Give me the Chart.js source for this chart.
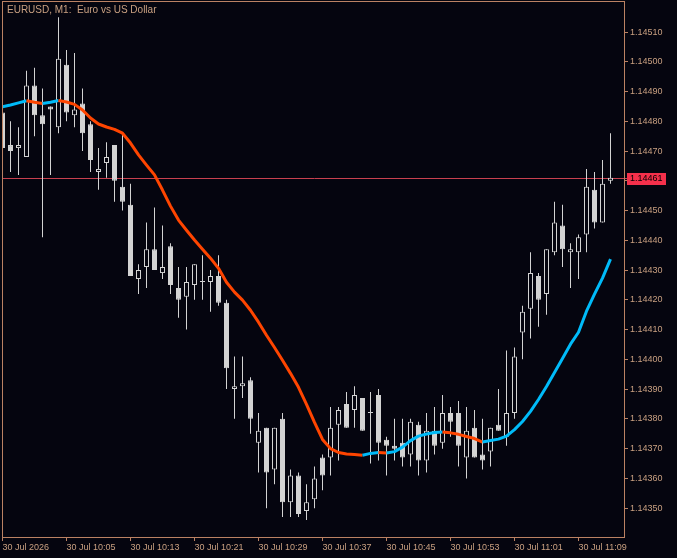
<!DOCTYPE html>
<html lang="en">
<head>
    <meta charset="UTF-8">
    <title>EURUSD, M1: Euro vs US Dollar</title>
    <script src="https://cdn.jsdelivr.net/npm/chart.js"></script>
    <style>
        html, body { margin: 0; padding: 0; background: #05050f; }
        #wrap { width: 677px; height: 558px; }
    </style>
</head>
<body>
    <div id="wrap"><canvas id="chart" width="677" height="558"></canvas></div>

    <script>
        // one bar per minute, 30 Jul 2026
        const times = [
            '09:57', '09:58', '09:59', '10:00', '10:01', '10:02', '10:03', '10:04', '10:05', '10:06',
            '10:07', '10:08', '10:09', '10:10', '10:11', '10:12', '10:13', '10:14', '10:15', '10:16',
            '10:17', '10:18', '10:19', '10:20', '10:21', '10:22', '10:23', '10:24', '10:25', '10:26',
            '10:27', '10:28', '10:29', '10:30', '10:31', '10:32', '10:33', '10:34', '10:35', '10:36',
            '10:37', '10:38', '10:39', '10:40', '10:41', '10:42', '10:43', '10:44', '10:45', '10:46',
            '10:47', '10:48', '10:49', '10:50', '10:51', '10:52', '10:53', '10:54', '10:55', '10:56',
            '10:57', '10:58', '10:59', '11:00', '11:01', '11:02', '11:03', '11:04', '11:05', '11:06',
            '11:07', '11:08', '11:09', '11:10', '11:11', '11:12', '11:13'
        ];
        const open = [
            1.14483, 1.14472, 1.14471, 1.14468, 1.14492, 1.14482, 1.14485, 1.14478, 1.14499, 1.14482,
            1.14486, 1.14479, 1.14463, 1.14466, 1.14472, 1.14458, 1.14452, 1.14427, 1.14431, 1.14437,
            1.14429, 1.14438, 1.14424, 1.14421, 1.14425, 1.14426, 1.14426, 1.14428, 1.14419, 1.14390,
            1.14391, 1.14393, 1.14372, 1.14377, 1.14363, 1.14380, 1.14352, 1.14361, 1.14349, 1.14353,
            1.14367, 1.14367, 1.14378, 1.14385, 1.14383, 1.14387, 1.14382, 1.14388, 1.14373, 1.14371,
            1.14372, 1.14368, 1.14378, 1.14366, 1.14376, 1.14372, 1.14382, 1.14382, 1.14367, 1.14377,
            1.14368, 1.14369, 1.14378, 1.14374, 1.14382, 1.14409, 1.14417, 1.14428, 1.14422, 1.14436,
            1.14445, 1.14436, 1.14436, 1.14442, 1.14457, 1.14446, 1.14460
        ];
        const high = [
            1.14485, 1.14480, 1.14478, 1.14497, 1.14498, 1.14491, 1.14485, 1.14515, 1.14504, 1.14503,
            1.14491, 1.14480, 1.14471, 1.14473, 1.14472, 1.14476, 1.14459, 1.14432, 1.14446, 1.14451,
            1.14445, 1.14439, 1.14431, 1.14431, 1.14432, 1.14435, 1.14430, 1.14435, 1.14420, 1.14401,
            1.14401, 1.14394, 1.14382, 1.14377, 1.14377, 1.14382, 1.14363, 1.14362, 1.14358, 1.14364,
            1.14368, 1.14384, 1.14384, 1.14389, 1.14391, 1.14387, 1.14389, 1.14390, 1.14374, 1.14380,
            1.14380, 1.14380, 1.14379, 1.14382, 1.14384, 1.14388, 1.14384, 1.14386, 1.14384, 1.14383,
            1.14380, 1.14377, 1.14390, 1.14403, 1.14404, 1.14418, 1.14436, 1.14429, 1.14437, 1.14453,
            1.14452, 1.14439, 1.14442, 1.14464, 1.14463, 1.14467, 1.14476
        ];
        const low = [
            1.14470, 1.14463, 1.14462, 1.14468, 1.14475, 1.14441, 1.14462, 1.14476, 1.14480, 1.14478,
            1.14470, 1.14463, 1.14457, 1.14461, 1.14453, 1.14450, 1.14428, 1.14422, 1.14424, 1.14430,
            1.14427, 1.14422, 1.14414, 1.14410, 1.14420, 1.14420, 1.14416, 1.14418, 1.14390, 1.14380,
            1.14387, 1.14375, 1.14362, 1.14350, 1.14358, 1.14347, 1.14347, 1.14347, 1.14346, 1.14350,
            1.14356, 1.14361, 1.14366, 1.14377, 1.14377, 1.14376, 1.14365, 1.14366, 1.14361, 1.14366,
            1.14364, 1.14364, 1.14361, 1.14362, 1.14368, 1.14370, 1.14374, 1.14364, 1.14360, 1.14367,
            1.14363, 1.14364, 1.14376, 1.14371, 1.14380, 1.14400, 1.14407, 1.14411, 1.14415, 1.14435,
            1.14431, 1.14424, 1.14427, 1.14436, 1.14444, 1.14446, 1.14459
        ];
        const close = [
            1.14471, 1.14470, 1.14472, 1.14492, 1.14482, 1.14479, 1.14484, 1.14501, 1.14483, 1.14484,
            1.14476, 1.14467, 1.14464, 1.14468, 1.14460, 1.14453, 1.14428, 1.14430, 1.14437, 1.14430,
            1.14431, 1.14425, 1.14420, 1.14426, 1.14432, 1.14426, 1.14428, 1.14419, 1.14397, 1.14391,
            1.14392, 1.14380, 1.14376, 1.14362, 1.14377, 1.14352, 1.14361, 1.14348, 1.14352, 1.14360,
            1.14361, 1.14377, 1.14383, 1.14377, 1.14388, 1.14376, 1.14382, 1.14372, 1.14371, 1.14370,
            1.14367, 1.14379, 1.14366, 1.14376, 1.14371, 1.14382, 1.14379, 1.14371, 1.14376, 1.14367,
            1.14366, 1.14377, 1.14376, 1.14382, 1.14401, 1.14416, 1.14429, 1.14420, 1.14437, 1.14446,
            1.14437, 1.14437, 1.14441, 1.14458, 1.14446, 1.14459, 1.14461
        ];
        // smoothed moving average, coloured by direction
        const ma = [
            1.144849, 1.144855, 1.144862, 1.144869, 1.144864, 1.144860, 1.144864, 1.144870, 1.144865, 1.144857,
            1.144838, 1.144811, 1.144791, 1.144781, 1.144773, 1.144760, 1.144727, 1.144687, 1.144653, 1.144620,
            1.144569, 1.144515, 1.144468, 1.144434, 1.144401, 1.144370, 1.144340, 1.144306, 1.144259, 1.144226,
            1.144199, 1.144165, 1.144125, 1.144081, 1.144040, 1.143997, 1.143953, 1.143906, 1.143849, 1.143788,
            1.143731, 1.143700, 1.143687, 1.143682, 1.143680, 1.143678, 1.143684, 1.143687, 1.143685, 1.143690,
            1.143705, 1.143727, 1.143742, 1.143749, 1.143754, 1.143756, 1.143753, 1.143748, 1.143741, 1.143734,
            1.143722, 1.143727, 1.143732, 1.143742, 1.143764, 1.143791, 1.143825, 1.143865, 1.143909, 1.143956,
            1.144003, 1.144051, 1.144091, 1.144162, 1.144219, 1.144273, 1.144337
        ];

        const xTickIdx = [0, 8, 16, 24, 32, 40, 48, 56, 64, 72];
        const xTickText = ['30 Jul 2026', '30 Jul 10:05', '30 Jul 10:13', '30 Jul 10:21', '30 Jul 10:29',
                           '30 Jul 10:37', '30 Jul 10:45', '30 Jul 10:53', '30 Jul 11:01', '30 Jul 11:09'];
        const yTicks = [1.14350, 1.14360, 1.14370, 1.14380, 1.14390, 1.14400, 1.14410, 1.14420, 1.14430,
                        1.14440, 1.14450, 1.14460, 1.14470, 1.14480, 1.14490, 1.14500, 1.14510];
        const bid = 1.14461;
        const title = 'EURUSD, M1:  Euro vs US Dollar';

        const BG = '#05050f';
        const AXIS = '#bb8263';
        const TEXT = '#c9a081';
        const CANDLE = '#d3d3d3';
        const UP = '#00bbf9';
        const DOWN = '#ff4500';
        const FONT = "'Liberation Sans', Arial, sans-serif";

        // no extra room for edge labels, the plot must touch the frame
        function noPad(s) {
            s.paddingLeft = 0;
            s.paddingRight = 0;
            s.paddingTop = 0;
            s.paddingBottom = 0;
        }

        // background, frame, bid line, price tag and title
        const terminalLook = {
            id: 'terminalLook',
            beforeDraw(chart) {
                const c = chart.ctx;
                c.save();
                c.fillStyle = BG;
                c.fillRect(0, 0, chart.width, chart.height);
                c.restore();
            },
            beforeDatasetsDraw(chart) {
                const c = chart.ctx, a = chart.chartArea;
                const y = Math.round(chart.scales.y.getPixelForValue(bid)) + 0.5;
                c.save();
                c.strokeStyle = '#c8404f';
                c.lineWidth = 1;
                c.beginPath();
                c.moveTo(a.left, y);
                c.lineTo(a.right + 3, y);
                c.stroke();
                c.restore();
            },
            afterDraw(chart) {
                const c = chart.ctx, a = chart.chartArea;
                c.save();
                c.strokeStyle = AXIS;
                c.lineWidth = 1;
                c.strokeRect(a.left + 0.5, a.top - 0.5, a.right - a.left, a.bottom - a.top + 1);

                c.fillStyle = TEXT;
                c.font = '10px ' + FONT;
                c.textBaseline = 'alphabetic';
                c.textAlign = 'left';
                c.fillText(title, 7, 13);

                const y = Math.round(chart.scales.y.getPixelForValue(bid));
                c.fillStyle = '#f5304b';
                c.fillRect(a.right + 3, y - 5, 39, 12);
                c.fillStyle = '#000000';
                c.font = '9px ' + FONT;
                c.textBaseline = 'middle';
                c.fillText(bid.toFixed(5), a.right + 6, y + 1);
                c.restore();
            }
        };

        new Chart(document.getElementById('chart'), {
            type: 'bar',
            data: {
                datasets: [
                    {
                        label: 'Wick',
                        data: times.map((t, i) => ({ x: i, y: [low[i], high[i]] })),
                        backgroundColor: CANDLE,
                        borderWidth: 0,
                        barThickness: 1,
                        inflateAmount: 0,
                        grouped: false,
                        order: 3
                    },
                    {
                        label: 'Body',
                        data: times.map((t, i) => ({ x: i, y: [open[i], close[i]] })),
                        backgroundColor: ctx => close[ctx.dataIndex] > open[ctx.dataIndex] ? BG : CANDLE,
                        borderColor: CANDLE,
                        borderWidth: 1,
                        borderSkipped: false,
                        barThickness: 5,
                        minBarLength: 1,
                        inflateAmount: 0,
                        grouped: false,
                        order: 2
                    },
                    {
                        type: 'line',
                        label: 'MA',
                        data: times.map((t, i) => ({ x: i, y: ma[i] })),
                        borderWidth: 3,
                        borderColor: UP,
                        pointRadius: 0,
                        tension: 0,
                        borderJoinStyle: 'round',
                        segment: {
                            borderColor: ctx => ctx.p1.parsed.y >= ctx.p0.parsed.y ? UP : DOWN
                        },
                        order: 1
                    }
                ]
            },
            options: {
                responsive: false,
                animation: false,
                events: [],
                layout: { padding: { left: 2, top: 2, right: 0, bottom: 0 } },
                plugins: {
                    legend: { display: false },
                    tooltip: { enabled: false }
                },
                scales: {
                    x: {
                        type: 'linear',
                        min: -0.0625,
                        max: 77.6875,
                        offset: false,
                        afterBuildTicks: s => { s.ticks = xTickIdx.map(v => ({ value: v })); },
                        afterFit: s => { s.height = 21; noPad(s); },
                        ticks: {
                            autoSkip: false,
                            maxRotation: 0,
                            align: 'start',
                            padding: 1,
                            color: TEXT,
                            font: { family: FONT, size: 9 },
                            callback: (v, i) => xTickText[i]
                        },
                        grid: { offset: false, drawOnChartArea: false, tickLength: 4, color: AXIS },
                        border: { color: AXIS }
                    },
                    y: {
                        position: 'right',
                        min: 1.143403,
                        max: 1.145201,
                        afterBuildTicks: s => { s.ticks = yTicks.map(v => ({ value: v })); },
                        afterFit: s => { s.width = 53; noPad(s); },
                        ticks: {
                            padding: 2,
                            color: TEXT,
                            font: { family: FONT, size: 9 },
                            callback: v => v.toFixed(5)
                        },
                        grid: { drawOnChartArea: false, tickLength: 4, color: AXIS },
                        border: { color: AXIS }
                    }
                }
            },
            plugins: [terminalLook]
        });
    </script>
</body>
</html>
